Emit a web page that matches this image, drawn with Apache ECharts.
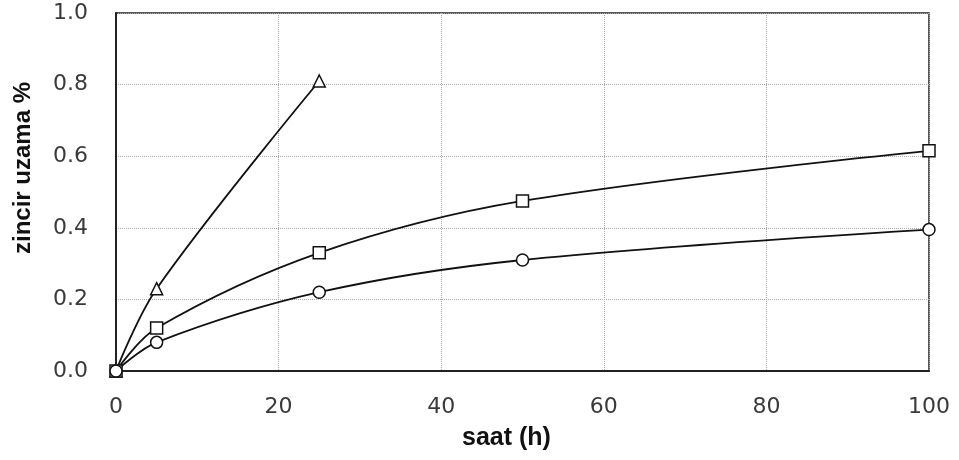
<!DOCTYPE html>
<html><head><meta charset="utf-8">
<script src="https://cdn.jsdelivr.net/npm/echarts@6/dist/echarts.min.js"></script>
<style>html,body{margin:0;padding:0;background:#fff}#c{width:959px;height:460px}</style>
</head><body><div id="c"></div>
<script>
const triangleX = [0, 5, 25];
const triangleY = [0, 0.23, 0.81];
const squareX = [0, 5, 25, 50, 100];
const squareY = [0, 0.12, 0.33, 0.475, 0.615];
const circleX = [0, 5, 25, 50, 100];
const circleY = [0, 0.08, 0.22, 0.31, 0.395];
const xName = 'saat (h)';
const yName = 'zincir uzama %';

const pairs = (xs, ys) => xs.map((x, i) => [x, ys[i]]);
const chart = echarts.init(document.getElementById('c'));
const tickFont = { fontFamily: 'DejaVu Sans', fontSize: 22, color: '#3a3a3a' };
const mkSeries = (data, symbol, size) => ({
  type: 'line', data, smooth: 0.35, symbol, symbolSize: size,
  lineStyle: { color: '#111', width: 1.8 },
  itemStyle: { color: '#fff', borderColor: '#111', borderWidth: 1.5 },
  z: 3
});
chart.setOption({
  animation: false,
  backgroundColor: '#fff',
  grid: { left: 116, right: 30, top: 13, bottom: 89, show: true, borderColor: '#222', borderWidth: 1.5 },
  xAxis: {
    type: 'value', min: 0, max: 100, interval: 20,
    axisLine: { lineStyle: { color: '#222', width: 2 } },
    axisTick: { show: false },
    axisLabel: Object.assign({ margin: 25 }, tickFont),
    splitLine: { show: true, lineStyle: { color: '#aaa', type: 'dotted', width: 1 } }
  },
  yAxis: {
    type: 'value', min: 0, max: 1.0, interval: 0.2,
    axisLine: { show: true, lineStyle: { color: '#222', width: 2 } },
    axisTick: { show: false },
    axisLabel: Object.assign({ margin: 28, formatter: v => v.toFixed(1) }, tickFont),
    splitLine: { show: true, lineStyle: { color: '#aaa', type: 'dotted', width: 1 } }
  },
  graphic: [
    { type: 'text', left: 462, top: 426,
      style: { text: xName, font: 'bold 25px "Liberation Sans"', fill: '#111' } },
    { type: 'text', x: 23, y: 168, rotation: Math.PI / 2,
      style: { text: yName, font: 'bold 24px "Liberation Sans"', fill: '#111', align: 'center', verticalAlign: 'middle' } }
  ],
  series: [
    mkSeries(pairs(triangleX, triangleY), 'triangle', 12),
    mkSeries(pairs(squareX, squareY), 'rect', 12),
    mkSeries(pairs(circleX, circleY), 'circle', 12)
  ]
});
</script></body></html>
